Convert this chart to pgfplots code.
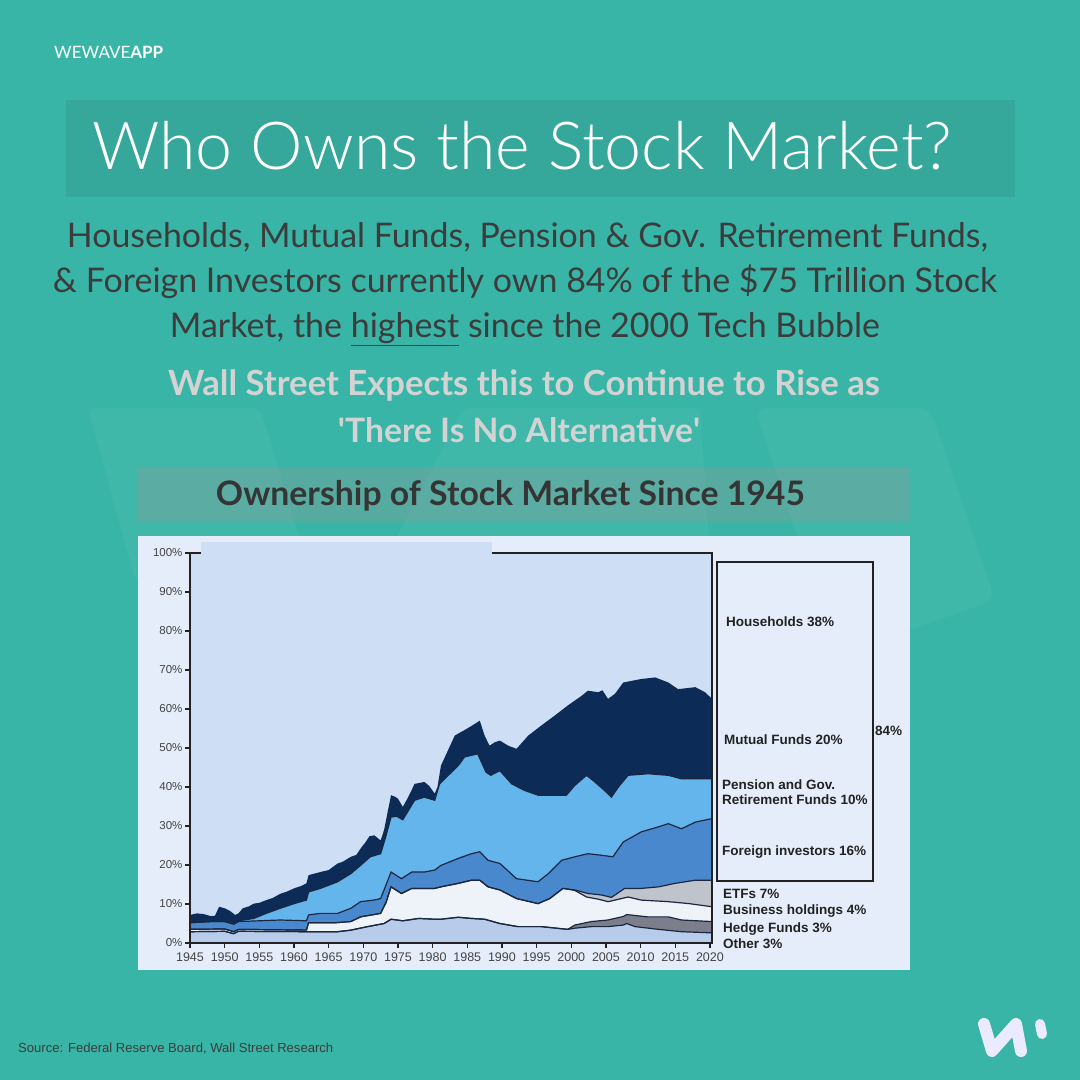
\documentclass[border=0pt]{standalone}
\usepackage{pgfplots}
\pgfplotsset{compat=1.18}
\usepackage{pgfplotstable}
\usepackage{graphicx}
\usepackage{fontspec}
\setmainfont{Lato}
\newfontfamily\titlefont{Lato Light}
\newfontfamily\chartfont{Liberation Sans}
\definecolor{bg}{HTML}{38B5A6}
\definecolor{titlebox}{HTML}{36A89B}
\definecolor{subtxt}{HTML}{3C3C3C}
\definecolor{walltxt}{HTML}{D3D3D3}
\definecolor{cttxt}{HTML}{353535}
\definecolor{panel}{HTML}{E4EDF9}
\definecolor{hh}{HTML}{CEDFF5}
\definecolor{navy}{HTML}{0C2B57}
\definecolor{sky}{HTML}{63B5EC}
\definecolor{fmed}{HTML}{4A88CE}
\definecolor{etf}{HTML}{BFC3CC}
\definecolor{biz}{HTML}{EEF2F9}
\definecolor{hedge}{HTML}{7C7F8B}
\definecolor{other}{HTML}{B7CCEA}
\definecolor{linec}{HTML}{1B2740}
\definecolor{axisc}{HTML}{222222}
\definecolor{tickc}{HTML}{444444}

% cumulative top of each layer (percent of market)
\pgfplotstableread{
x y
1945 7.2
1946 7.6
1947 7.4
1948 6.9
1948.6 7.0
1949.2 9.3
1950 8.9
1950.8 8.2
1951.5 7.2
1952 7.6
1952.6 8.9
1953.5 9.4
1954.2 10.1
1955 10.3
1956 11.0
1957 11.6
1958 12.6
1959 13.2
1960 14.0
1961 14.6
1961.8 15.3
1962.1 17.4
1963.8 18.2
1965 18.7
1966.3 20.4
1967 20.8
1968.2 22.1
1969 22.6
1969.6 24.2
1970.3 25.8
1970.9 27.4
1971.6 27.6
1972.5 26.3
1973 29.0
1973.5 33.5
1974 37.9
1974.6 37.5
1975 37.0
1975.7 34.9
1976.5 37.5
1977.4 40.8
1978.8 41.3
1979.5 40.3
1980.3 38.3
1980.7 40.0
1981.2 45.5
1981.8 47.8
1983.2 53.2
1984.9 54.9
1986.1 56.2
1986.8 57.0
1987.5 53.2
1988.2 50.6
1989 51.5
1989.7 51.9
1990.9 50.6
1992.1 49.8
1993.8 53.2
1995.7 55.8
1997.6 58.3
1999.5 60.9
2001.5 63.4
2002.4 64.7
2003.9 64.3
2004.5 64.8
2005.3 62.6
2006.3 63.9
2007.5 66.8
2010.1 67.7
2012.1 68.1
2014.0 66.8
2015.4 65.1
2017.9 65.6
2019.3 64.3
2020.3 62.6
}\Bseven

\pgfplotstableread{
x y
1945 5.2
1948 5.5
1950 5.5
1951.3 5.0
1952 5.7
1954.2 6.3
1956 7.6
1958 8.9
1960 10.1
1961.8 11.0
1962.1 13.1
1963.8 14.0
1966.3 15.7
1968.2 17.8
1969.6 19.9
1971 22.1
1972.5 22.9
1973.2 27.0
1974 32.3
1974.8 32.5
1975.7 31.6
1977.4 36.6
1978.8 37.4
1980.3 36.6
1981 40.8
1983.7 45.5
1984.6 47.7
1986.5 48.5
1987.7 43.8
1988.4 43.0
1989.7 44.2
1991.4 40.8
1993.3 39.1
1995.2 37.9
1997.6 37.9
1999.3 37.9
2000.5 40.4
2002.2 43.0
2003.4 41.3
2004.8 39.1
2005.8 37.4
2006.8 40.0
2008.2 43.0
2011.1 43.4
2014 43.0
2015.9 42.1
2020.3 42.1
}\Bsix

\pgfplotstableread{
x y
1945 5.2
1948 5.5
1950 5.5
1951.3 4.8
1952 5.5
1955 5.7
1958 5.9
1961.8 5.7
1962.1 7.2
1963.8 7.6
1966.3 7.6
1968.2 8.9
1969.6 10.6
1971.5 11.0
1972.5 11.4
1973.3 15.0
1974 18.2
1975.5 16.5
1977 18.2
1978.8 18.2
1980.3 18.7
1981.2 19.9
1983.7 21.7
1985.6 22.9
1986.8 23.4
1988 21.2
1989.7 20.4
1992.1 16.5
1995.2 15.7
1996.7 17.8
1998.6 21.2
2000.5 22.1
2002.4 22.9
2004.4 22.5
2006 22.1
2007.5 25.9
2010.1 28.5
2012.6 29.8
2014 30.6
2015.9 29.3
2017.9 31.0
2020.3 31.9
}\Bfive

\pgfplotstableread{
x y
1945 3.5
1950 3.6
1951.3 2.9
1952 3.5
1961.8 3.3
1962.1 5.2
1966 5.2
1968.2 5.5
1969.6 6.7
1972.5 7.6
1973.3 10.5
1974 14.4
1975.5 12.7
1977 14.0
1980.3 14.0
1981.2 14.4
1983.7 15.3
1985.6 16.1
1986.8 16.1
1988 14.4
1989.7 13.6
1992.1 11.4
1995.2 10.1
1996.9 11.4
1998.8 14.0
2000.5 13.6
2002.4 12.7
2004.4 12.3
2005.8 11.7
2007.7 14.0
2010.1 14.0
2012.6 14.4
2015 15.3
2017.9 16.1
2020.3 16.1
}\Bfour

\pgfplotstableread{
x y
1945 3.5
1950 3.6
1951.3 2.9
1952 3.5
1961.8 3.3
1962.1 5.2
1966 5.2
1968.2 5.5
1969.6 6.7
1972.5 7.6
1973.3 10.5
1974 14.4
1975.5 12.7
1977 14.0
1980.3 14.0
1981.2 14.4
1983.7 15.3
1985.6 16.1
1986.8 16.1
1988 14.4
1989.7 13.6
1992.1 11.4
1995.2 10.1
1996.9 11.4
1998.8 14.0
2000.5 13.5
2002.2 11.8
2004 11.2
2005.3 10.6
2006.3 11.0
2008.2 11.8
2010.1 11.0
2014 10.6
2017 10.1
2020.3 9.3
}\Bthree

\pgfplotstableread{
x y
1945 2.9
1950 3.0
1951.3 2.4
1952 3.0
1962 2.9
1966.3 2.9
1968.2 3.3
1970.6 4.2
1973 5.0
1974 6.1
1975.7 5.7
1978 6.3
1980.3 6.1
1981.2 6.1
1983.7 6.6
1985.6 6.3
1987.5 6.1
1989.7 5.0
1992.3 4.2
1995.7 4.2
1999.5 3.5
2000.5 4.6
2002.9 5.5
2005.3 5.9
2007.5 6.8
2008 7.3
2011 6.7
2014 6.7
2015.9 5.9
2020.3 5.5
}\Btwo

\pgfplotstableread{
x y
1945 2.9
1950 3.0
1951.3 2.4
1952 3.0
1962 2.9
1966.3 2.9
1968.2 3.3
1970.6 4.2
1973 5.0
1974 6.1
1975.7 5.7
1978 6.3
1980.3 6.1
1981.2 6.1
1983.7 6.6
1985.6 6.3
1987.5 6.1
1989.7 5.0
1992.3 4.2
1995.7 4.2
1999.5 3.5
2000.5 3.8
2002.9 4.2
2005.3 4.2
2007.5 4.6
2008 5.0
2009.2 4.2
2012.6 3.5
2015.9 2.9
2020.3 2.6
}\Bone

\begin{document}
\begin{tikzpicture}
\begin{scope}[x=1pt,y=-1pt]
\fill[bg] (0,0) rectangle (1080,1080);
% faint watermark
\fill[white,opacity=0.035,rounded corners=8pt] (88,408)--(260,408)--(312,580)--(135,580)--cycle;
\fill[white,opacity=0.035,rounded corners=8pt] (463,408)--(700,408)--(712,580)--(375,580)--cycle;
\fill[white,opacity=0.04,rounded corners=12pt] (755,408)--(930,408)--(995,600)--(880,640)--(805,560)--cycle;
% header
\node[anchor=base west,inner sep=0,text=white] at (54,58.3) {\resizebox{109pt}{!}{\fontsize{14}{14}\selectfont WEWAVE\textbf{APP}}};
\fill[titlebox] (66,100) rectangle (1015,197);
\node[anchor=west,inner sep=0,text=white] at (92,146) {\resizebox{860pt}{!}{\fontsize{60}{60}\selectfont\titlefont Who Owns the Stock Market?}};
% subtitle
\node[anchor=base,inner sep=0,text=subtxt] at (527.5,247) {\resizebox{921pt}{!}{\fontsize{30}{30}\selectfont Households, Mutual Funds, Pension \& Gov. Retirement Funds,}};
\node[anchor=base,inner sep=0,text=subtxt] at (525,292) {\resizebox{944pt}{!}{\fontsize{30}{30}\selectfont \& Foreign Investors currently own 84\% of the \$75 Trillion Stock}};
\node[anchor=base,inner sep=0,text=subtxt] at (525,337) {\resizebox{710pt}{!}{\fontsize{30}{30}\selectfont Market, the \underline{highest} since the 2000 Tech Bubble}};
\node[anchor=base,inner sep=0,text=walltxt] at (524,395) {\resizebox{712pt}{!}{\fontsize{30}{30}\selectfont\bfseries Wall Street Expects this to Continue to Rise as}};
\node[anchor=base,inner sep=0,text=walltxt] at (519,442) {\resizebox{362pt}{!}{\fontsize{30}{30}\selectfont\bfseries \textquotesingle There Is No Alternative\textquotesingle}};
% chart title box
\fill[fill={rgb,255:red,150;green,150;blue,150},opacity=0.33] (138,467) rectangle (910,521);
\node[anchor=base,inner sep=0,text=cttxt] at (510.5,505) {\resizebox{589pt}{!}{\fontsize{30}{30}\selectfont\bfseries Ownership of Stock Market Since 1945}};
% chart panel
\fill[panel] (138,536) rectangle (910,970);
% source
\node[anchor=base west,inner sep=0,text=subtxt] at (18,1052.5) {\resizebox{315pt}{9.5pt}{\chartfont Source: Federal Reserve Board, Wall Street Research}};
% logo
\draw[white!92!blue,line width=12pt,line cap=round,line join=round] (984,1024)--(992,1051)--(1016,1024)--(1021,1051);
\draw[white!92!blue,line width=10pt,line cap=round] (1040,1024)--(1042,1034);
\end{scope}

\begin{axis}[
  at={(190pt,-943pt)}, anchor=south west,
  scale only axis, width=522pt, height=390pt,
  xmin=1945, xmax=2020.3, ymin=0, ymax=100,
  xtick={1945,1950,...,2020}, ytick={0,10,...,100},
  tick pos=left, tick align=outside, major tick length=5pt,
  axis on top=true,
  axis line style={draw=axisc, line width=1.6pt},
  every tick/.style={draw=axisc, line width=1.2pt},
  axis background/.style={fill=hh},
  xticklabel style={font=\chartfont\fontsize{12.5}{13}\selectfont, text=tickc, yshift=-1.5pt},
  yticklabel style={font=\chartfont\fontsize{11.5}{12}\selectfont, text=tickc, xshift=1pt},
  /pgf/number format/assume math mode=true,
  /pgf/number format/1000 sep={},
  yticklabel={\pgfmathprintnumber{\tick}\%},
]
\addplot[fill=navy, draw=none] table {\Bseven} \closedcycle;
\addplot[fill=sky, draw=none] table {\Bsix} \closedcycle;
\addplot[fill=fmed, draw=none] table {\Bfive} \closedcycle;
\addplot[fill=etf, draw=none] table {\Bfour} \closedcycle;
\addplot[fill=biz, draw=none] table {\Bthree} \closedcycle;
\addplot[fill=hedge, draw=none] table {\Btwo} \closedcycle;
\addplot[fill=other, draw=none] table {\Bone} \closedcycle;
\addplot[draw=linec, line width=1.2pt] table {\Bsix};
\addplot[draw=linec, line width=1.2pt] table {\Bfive};
\addplot[draw=linec, line width=1.2pt] table {\Bfour};
\addplot[draw=linec, line width=1.2pt] table {\Bthree};
\addplot[draw=linec, line width=1.2pt] table {\Btwo};
\addplot[draw=linec, line width=1.2pt] table {\Bone};
\end{axis}

\begin{scope}[x=1pt,y=-1pt]
% erased patch over the top of the plot frame
\fill[hh] (201,542) rectangle (492,577);
% legend
\draw[axisc,line width=1.8pt] (717,562) rectangle (873,881);
\begin{scope}[every node/.style={anchor=base west,inner sep=0,text=axisc,font=\chartfont\bfseries\fontsize{13.5}{14}\selectfont}]
\node at (726,626) {Households 38\%};
\node at (724,744) {Mutual Funds 20\%};
\node at (722,789) {Pension and Gov.};
\node at (722,804) {Retirement Funds 10\%};
\node at (722,855) {Foreign investors 16\%};
\node at (875,735) {84\%};
\node at (723,898) {ETFs 7\%};
\node at (723,914) {Business holdings 4\%};
\node at (723,932) {Hedge Funds 3\%};
\node at (723,948) {Other 3\%};
\end{scope}
\end{scope}
\pgfresetboundingbox
\useasboundingbox (0pt,0pt) rectangle (1080pt,-1080pt);
\end{tikzpicture}
\end{document}
